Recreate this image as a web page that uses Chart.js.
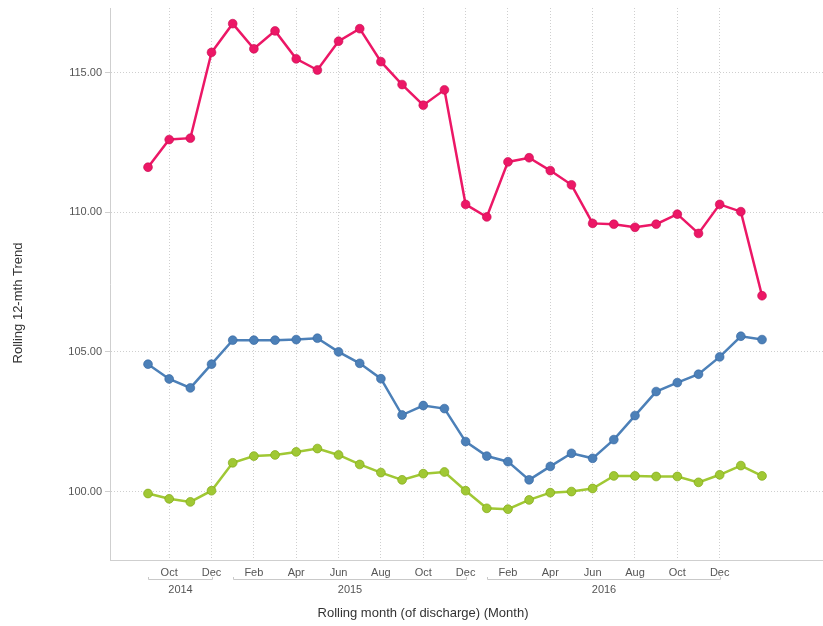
<!DOCTYPE html>
<html>
<head>
<meta charset="utf-8">
<script src="https://cdn.jsdelivr.net/npm/chart.js@4.4.1/dist/chart.umd.min.js"></script>
<style>
  html, body { margin: 0; padding: 0; background: #ffffff; }
  #wrap { width: 823px; height: 626px; }
</style>
</head>
<body>
<div id="wrap"><canvas id="chart" width="823" height="626"></canvas></div>
<script>
// Rolling months, Sep 2014 .. Feb 2017
const categories = [
  'Sep 2014', 'Oct 2014', 'Nov 2014', 'Dec 2014',
  'Jan 2015', 'Feb 2015', 'Mar 2015', 'Apr 2015', 'May 2015', 'Jun 2015',
  'Jul 2015', 'Aug 2015', 'Sep 2015', 'Oct 2015', 'Nov 2015', 'Dec 2015',
  'Jan 2016', 'Feb 2016', 'Mar 2016', 'Apr 2016', 'May 2016', 'Jun 2016',
  'Jul 2016', 'Aug 2016', 'Sep 2016', 'Oct 2016', 'Nov 2016', 'Dec 2016',
  'Jan 2017', 'Feb 2017'
];

// Months that carry a tick label and a vertical grid line
const tickCategories = [
  'Oct 2014', 'Dec 2014',
  'Feb 2015', 'Apr 2015', 'Jun 2015', 'Aug 2015', 'Oct 2015', 'Dec 2015',
  'Feb 2016', 'Apr 2016', 'Jun 2016', 'Aug 2016', 'Oct 2016', 'Dec 2016'
];

// Year headers shown under the month labels
const yearLabels = ['2014', '2015', '2016'];

// Value axis ticks
const yTicks = [100, 105, 110, 115];

// Rolling 12-month trend values
const pinkSeries = [
  111.61, 112.60, 112.65, 115.72,
  116.75, 115.85, 116.49, 115.49, 115.09, 116.12,
  116.57, 115.39, 114.57, 113.83, 114.38, 110.28,
  109.83, 111.80, 111.95, 111.49, 110.98, 109.60,
  109.57, 109.46, 109.57, 109.93, 109.24, 110.28,
  110.02, 107.01
];
const blueSeries = [
  104.56, 104.03, 103.71, 104.56,
  105.42, 105.42, 105.42, 105.44, 105.49, 105.00,
  104.59, 104.04, 102.74, 103.08, 102.97, 101.79,
  101.27, 101.07, 100.42, 100.90, 101.37, 101.19,
  101.86, 102.72, 103.58, 103.90, 104.20, 104.82,
  105.56, 105.44
];
const greenSeries = [
  99.93, 99.74, 99.63, 100.03,
  101.03, 101.27, 101.31, 101.42, 101.54, 101.31,
  100.97, 100.68, 100.42, 100.64, 100.70, 100.03,
  99.40, 99.37, 99.70, 99.96, 100.00, 100.11,
  100.56, 100.56, 100.54, 100.54, 100.33, 100.60,
  100.93, 100.56
];

const FONT = '"Liberation Sans", Arial, sans-serif';
Chart.defaults.font.family = FONT;
Chart.defaults.font.size = 11;
Chart.defaults.color = '#555555';

const toPoints = vals => vals.map((v, i) => ({ x: i, y: v }));

function lineDataset(label, vals, color, edge) {
  return {
    label: label,
    data: toPoints(vals),
    borderColor: color,
    backgroundColor: color,
    borderWidth: 2.5,
    pointRadius: 4.4,
    pointBorderWidth: 1,
    pointBorderColor: edge,
    pointBackgroundColor: color,
    tension: 0,
    clip: false
  };
}

// Axis titles plus the year brackets below the month labels
const axisDecor = {
  id: 'axisDecor',
  afterDraw(chart) {
    const ctx = chart.ctx;
    const xs = chart.scales.x;
    const area = chart.chartArea;
    ctx.save();

    // year brackets
    const bracketY = area.bottom + 19;
    ctx.strokeStyle = '#c9c9c9';
    ctx.lineWidth = 1;
    ctx.fillStyle = '#555555';
    ctx.font = '11px ' + FONT;
    ctx.textAlign = 'center';
    ctx.textBaseline = 'top';
    yearLabels.forEach(year => {
      const idx = categories.map((c, i) => c.endsWith(year) ? i : -1).filter(i => i >= 0);
      const x0 = Math.round(xs.getPixelForValue(idx[0])) + 0.5;
      const x1 = Math.round(xs.getPixelForValue(idx[idx.length - 1])) + 0.5;
      ctx.beginPath();
      ctx.moveTo(x0, bracketY - 2);
      ctx.lineTo(x0, bracketY + 0.5);
      ctx.lineTo(x1, bracketY + 0.5);
      ctx.lineTo(x1, bracketY - 2);
      ctx.stroke();
      ctx.fillText(year, (x0 + x1) / 2, bracketY + 5);
    });

    // axis titles
    ctx.fillStyle = '#333333';
    ctx.font = '13px ' + FONT;
    ctx.textAlign = 'center';
    ctx.textBaseline = 'middle';
    ctx.fillText('Rolling month (of discharge) (Month)', 423, 613);
    ctx.translate(18, 303);
    ctx.rotate(-Math.PI / 2);
    ctx.fillText('Rolling 12-mth Trend', 0, 0);
    ctx.restore();
  }
};

new Chart(document.getElementById('chart'), {
  type: 'line',
  data: {
    datasets: [
      lineDataset('Pink', pinkSeries, '#ec1766', 'rgba(200,10,80,0.6)'),
      lineDataset('Blue', blueSeries, '#4c80b8', 'rgba(50,100,160,0.6)'),
      lineDataset('Green', greenSeries, '#a0c834', 'rgba(130,170,20,0.7)')
    ]
  },
  options: {
    responsive: false,
    animation: false,
    layout: { autoPadding: false, padding: { top: 8, right: 0, left: 0, bottom: 0 } },
    plugins: { legend: { display: false }, tooltip: { enabled: false } },
    scales: {
      x: {
        type: 'linear',
        min: -1.795,
        max: 31.88,
        afterBuildTicks: scale => {
          scale.ticks = tickCategories.map(c => ({ value: categories.indexOf(c) }));
        },
        afterFit: scale => {
          scale.height = 66;
          scale.paddingLeft = 0;
          scale.paddingRight = 0;
        },
        ticks: {
          autoSkip: false,
          maxRotation: 0,
          padding: 6,
          color: '#555555',
          font: { size: 11 },
          callback: v => categories[v].split(' ')[0]
        },
        grid: {
          color: '#cfcfcf',
          drawTicks: false,
          tickLength: 0
        },
        border: { display: true, color: '#cfcfcf', width: 1, dash: [1, 2] }
      },
      y: {
        min: 97.55,
        max: 117.31,
        afterBuildTicks: scale => {
          scale.ticks = yTicks.map(v => ({ value: v }));
        },
        afterFit: scale => {
          scale.width = 110;
          scale.paddingTop = 0;
          scale.paddingBottom = 0;
        },
        ticks: {
          padding: 3,
          color: '#555555',
          font: { size: 11 },
          callback: v => Number(v).toFixed(2)
        },
        grid: {
          color: '#cfcfcf',
          tickLength: 5,
          tickColor: '#cfcfcf'
        },
        border: { display: true, color: '#cfcfcf', width: 1, dash: [1, 2] }
      }
    }
  },
  plugins: [axisDecor]
});
</script>
</body>
</html>
